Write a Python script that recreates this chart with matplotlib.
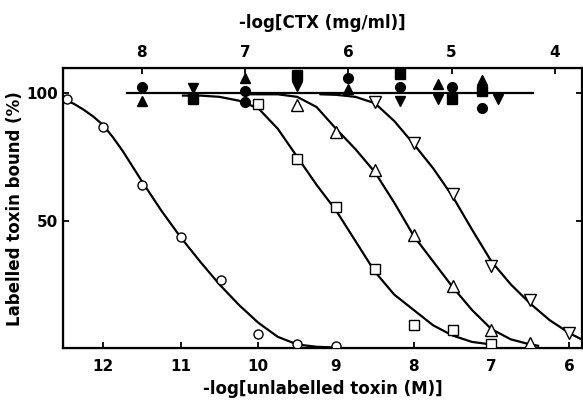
import matplotlib
matplotlib.use('Agg')
import matplotlib.pyplot as plt

plt.rcParams['font.family'] = 'DejaVu Sans'
plt.rcParams['font.weight'] = 'bold'

# open symbols: -log[unlabelled toxin (M)]
circ_x = [12.46, 12.0, 11.5, 11.0, 10.48, 10.0, 9.5, 9.0]
circ_y = [97.5, 86.6, 63.8, 43.6, 26.6, 5.7, 1.6, 1.0]
sq_x = [10.0, 9.5, 9.0, 8.5, 8.0, 7.5, 7.0]
sq_y = [95.6, 74.2, 55.2, 31.0, 9.1, 7.1, 1.6]
tri_x = [9.5, 9.0, 8.5, 8.0, 7.5, 7.0, 6.5]
tri_y = [95.3, 84.9, 69.9, 44.5, 24.6, 7.2, 2.0]
dtri_x = [8.5, 8.0, 7.5, 7.0, 6.5, 6.0]
dtri_y = [96.4, 80.3, 60.4, 32.4, 18.9, 5.9]

# hand-drawn curves
circ_cx = [12.5, 12.375, 12.25, 12.125, 12.0, 11.875, 11.75, 11.5, 11.25, 11.0, 10.75, 10.5,
           10.25, 10.0, 9.75, 9.5, 9.25, 9.0]
circ_cy = [97.5, 95.8, 93.5, 90.8, 87.5, 82.8, 77.5, 65.5, 54, 43.5, 34, 25,
           17, 10, 4.5, 1.5, 0.6, 0.3]
sq_cx = [10.97, 10.75, 10.5, 10.25, 10.0, 9.75, 9.5, 9.25, 9.0, 8.75, 8.5, 8.25, 8.0, 7.75, 7.5, 7.25, 7.0]
sq_cy = [99, 99, 98.5, 97, 94, 86, 75, 64, 54, 42, 30, 21, 15, 9, 5, 2.5, 1.5]
tri_cx = [10.15, 9.9, 9.75, 9.5, 9.25, 9.0, 8.75, 8.5, 8.25, 8.0, 7.75, 7.5, 7.25, 7.0, 6.75, 6.5, 6.4]
tri_cy = [99.5, 99.5, 99.5, 98.5, 94.5, 86, 78, 69, 57, 44, 34, 24, 15, 7.5, 3.5, 1.5, 1]
dtri_cx = [9.2, 9.0, 8.75, 8.5, 8.25, 8.0, 7.75, 7.5, 7.25, 7.0, 6.75, 6.5, 6.25, 6.0, 5.84]
dtri_cy = [99.5, 99.3, 98.5, 96, 89, 80, 70.5, 59.5, 46.5, 34, 25, 17.5, 11, 6, 3.5]

# filled symbols: -log[CTX (mg/ml)]
fcirc_x = [8.0, 7.0, 7.0, 6.0, 5.5, 5.0, 4.7]
fcirc_y = [102.5, 100.8, 96.5, 106, 102.5, 102.5, 94.3]
fsq_x = [7.5, 6.5, 5.5, 5.0, 4.7]
fsq_y = [97.5, 106.9, 107.3, 97.5, 100.8]
ftri_x = [8.0, 7.0, 6.0, 5.13, 4.7]
ftri_y = [96.9, 106, 101.7, 103.4, 105]
fdtri_x = [7.5, 6.5, 5.5, 5.13, 4.55]
fdtri_y = [102, 102.7, 96.9, 97.8, 97.5]
ctx_line_x = [8.14, 4.21]
ctx_line_y = [100, 100]

fig = plt.figure(figsize=(5.83, 4.01), dpi=100)
ax = fig.add_axes([0.1086, 0.1314, 0.889, 0.699])

lw = 1.6
for cx, cy in [(circ_cx, circ_cy), (sq_cx, sq_cy), (tri_cx, tri_cy), (dtri_cx, dtri_cy)]:
    ax.plot(cx, cy, color='black', lw=lw, zorder=2)

ax.plot(circ_x, circ_y, 'o', ms=6.5, mfc='white', mec='black', mew=1.0, zorder=3)
ax.plot(sq_x, sq_y, 's', ms=6.5, mfc='white', mec='black', mew=1.0, zorder=3)
ax.plot(tri_x, tri_y, '^', ms=8, mfc='white', mec='black', mew=1.0, zorder=3)
ax.plot(dtri_x, dtri_y, 'v', ms=8, mfc='white', mec='black', mew=1.0, zorder=3)

ax.set_xlim(12.51, 5.84)
ax.set_ylim(0, 109.8)
ax.set_xticks([12, 11, 10, 9, 8, 7, 6])
ax.set_yticks([50, 100])
ax.tick_params(direction='in', length=4, width=1.3, labelsize=11, right=True)
ax.tick_params(axis='x', pad=8)
ax.tick_params(axis='y', pad=4)
ax.set_xlabel('-log[unlabelled toxin (M)]', fontsize=12, fontweight='bold', labelpad=4)
ax.set_ylabel('Labelled toxin bound (%)', fontsize=12, fontweight='bold')
ax.yaxis.set_label_coords(-0.075, 0.5)
for sp in ax.spines.values():
    sp.set_linewidth(1.6)

ax2 = ax.twiny()
ax2.set_xlim(8.76, 3.74)
ax2.plot(ctx_line_x, ctx_line_y, color='black', lw=lw, zorder=2)
ax2.plot(fcirc_x, fcirc_y, 'o', ms=7, color='black', zorder=3)
ax2.plot(fsq_x, fsq_y, 's', ms=6.5, color='black', zorder=3)
ax2.plot(ftri_x, ftri_y, '^', ms=7, color='black', zorder=3)
ax2.plot(fdtri_x, fdtri_y, 'v', ms=7, color='black', zorder=3)
ax2.set_xticks([8, 7, 6, 5, 4])
ax2.tick_params(direction='in', length=4, width=1.3, labelsize=11, pad=6)
ax2.set_xlabel('-log[CTX (mg/ml)]', fontsize=12, fontweight='bold', labelpad=12)
ax2.set_ylim(0, 109.8)

fig.savefig('out.png', dpi=100)
